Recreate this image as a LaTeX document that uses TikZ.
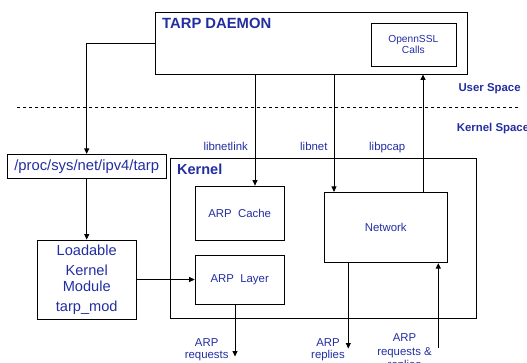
\documentclass[tikz,border=0pt]{standalone}
\usepackage{fontspec}
\setmainfont{Liberation Sans}
\usetikzlibrary{arrows.meta}

\definecolor{tarpblue}{RGB}{34,46,160}

\tikzset{
  box/.style={draw, line width=0.8pt, inner sep=0pt},
  lbl/.style={text=tarpblue, inner sep=0pt, align=center},
  arr/.style={line width=0.8pt, -{Triangle[length=5.5pt,width=5pt]}},
  small/.style={font=\fontsize{11.4}{11.6}\selectfont}
}

\begin{document}
\begin{tikzpicture}[x=1pt, y=-1pt]
    \useasboundingbox (0,0) rectangle (527,362);

    % User space part
    \node[box, minimum width=312.7pt, minimum height=61.7pt] (daemon) at (311.3,43.2) {};
    \node[lbl, anchor=base west, font=\bfseries\fontsize{14.8}{16}\selectfont] (title) at (162,28.3) {TARP DAEMON};
    \node[box, minimum width=85pt, minimum height=43.4pt] (ssl) at (414.2,45) {};
    \node[lbl, anchor=base, font=\fontsize{10.2}{9.5}\selectfont] (ssltext) at (413.3,53.3) {OpennSSL\\Calls};

    % Space boundary
    \draw[line width=0.6pt, dashed] (17,107.3) -- (518,107.3);
    \node[lbl, anchor=base west, font=\bfseries\fontsize{11.4}{13}\selectfont] (user) at (458.3,91) {User Space};
    \node[lbl, anchor=base west, font=\bfseries\fontsize{11.4}{13}\selectfont] (kspace) at (456.7,131.7) {Kernel Space};

    % Kernel part
    \node[box, minimum width=158.7pt, minimum height=24pt, lbl, font=\fontsize{14.8}{16}\selectfont] (proc) at (86.7,166.3) {/proc/sys/net/ipv4/tarp};
    \node[box, minimum width=99pt, minimum height=79pt, lbl, font=\fontsize{14.6}{18}\selectfont] (lkm) at (86.7,279.5) {Loadable\\[2.7pt]Kernel\\[-2.4pt]Module\\[2pt]tarp\_mod};
    \node[box, minimum width=306.4pt, minimum height=160pt] (kernel) at (323.5,238.3) {};
    \node[lbl, anchor=base west, font=\bfseries\fontsize{14.5}{16}\selectfont] (ktitle) at (177,174.3) {Kernel};
    \node[box, minimum width=89.3pt, minimum height=54pt, lbl, small] (cache) at (239.7,213) {ARP~~Cache};
    \node[box, minimum width=89.3pt, minimum height=49pt, lbl, small] (layer) at (239.7,279.5) {ARP~~Layer};
    \node[box, minimum width=123.3pt, minimum height=70.4pt, lbl, small] (network) at (385.7,227.5) {Network};

    % Library labels
    \node[lbl, anchor=base west, small] (libnetlink) at (203.3,150) {libnetlink};
    \node[lbl, anchor=base west, small] (libnet) at (300,150) {libnet};
    \node[lbl, anchor=base west, small] (libpcap) at (369,150) {libpcap};

    % Packet labels (base = last line)
    \node[lbl, anchor=base, small] (reqlbl) at (206.7,358.3) {ARP\\requests};
    \node[lbl, anchor=base, small] (replbl) at (328,358.3) {ARP\\replies};
    \node[lbl, anchor=base, font=\fontsize{11.4}{13.3}\selectfont] (rrlbl) at (404.5,368.3) {ARP\\requests \&\\replies};

    % Line positions
    \coordinate (xnl) at (255,0);
    \coordinate (xln) at (334,0);
    \coordinate (xlp) at (423,0);
    \coordinate (req) at (235,356.5);
    \coordinate (rep) at (348.3,348.5);
    \coordinate (rr) at (438.3,348.3);

    % Connectors
    \draw[arr] (daemon.west) -| (proc.north);
    \draw[arr] (proc.south) -- (lkm.north);
    \draw[arr] (lkm.east) -- (layer.west);
    \draw[arr] (daemon.south -| xnl) -- (cache.north -| xnl);
    \draw[arr] (daemon.south -| xln) -- (network.north -| xln);
    \draw[arr] (network.north -| xlp) -- (daemon.south -| xlp);
    \draw[arr] (layer.south -| req) -- (req);
    \draw[arr] (network.south -| rep) -- (rep);
    \draw[arr] (rr) -- (network.south -| rr);
\end{tikzpicture}
\end{document}
